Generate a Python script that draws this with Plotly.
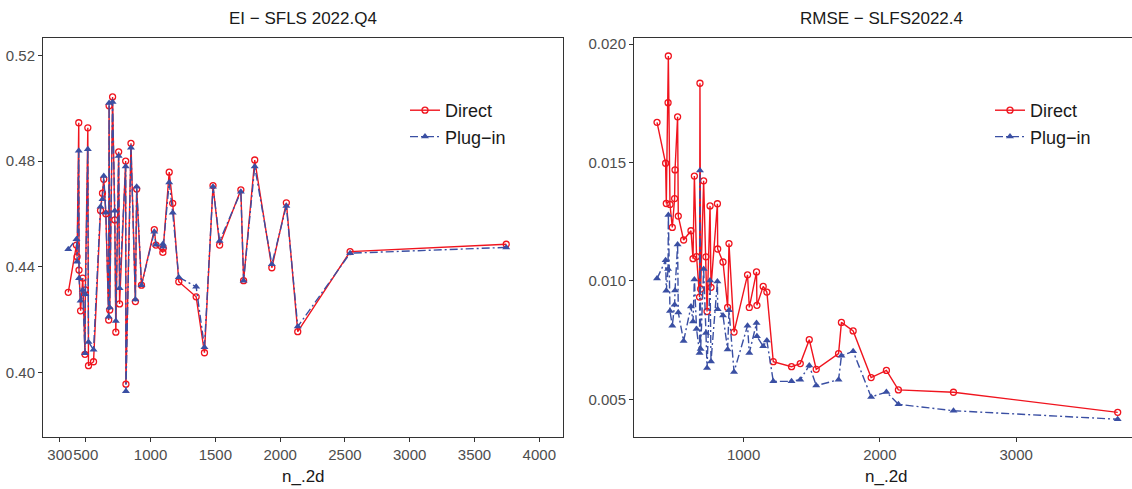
import plotly.graph_objects as go

# ---- data ----
n_2d = [365, 428, 433, 446, 448, 460, 477, 494, 497, 516, 521, 560, 614, 629, 639, 655,
        677, 680, 685, 707, 724, 732, 754, 761, 808, 810, 849, 883, 893, 930,
        1029, 1042, 1095, 1098, 1144, 1171, 1218, 1352, 1416, 1482, 1533,
        1697, 1718, 1804, 1936, 2048, 2136, 2540, 3745]

ei_direct = [0.4303, 0.4482, 0.4438, 0.4945, 0.4387, 0.4233, 0.4357, 0.4068, 0.4312, 0.4926,
             0.4025, 0.4040, 0.4613, 0.4678, 0.4731, 0.4600, 0.4198, 0.5009, 0.4236, 0.5043,
             0.4577, 0.4152, 0.4835, 0.4259, 0.4800, 0.3955, 0.4867, 0.4268, 0.4694, 0.4330,
             0.4540, 0.4482, 0.4454, 0.4470, 0.4758, 0.4640, 0.4343, 0.4286, 0.4074, 0.4707,
             0.4482, 0.4691, 0.4347, 0.4804, 0.4396, 0.4642, 0.4154, 0.4457, 0.4485]

ei_plugin = [0.4466, 0.4504, 0.4419, 0.4839, 0.4356, 0.4271, 0.4312, 0.4072, 0.4296, 0.4845,
             0.4115, 0.4085, 0.4627, 0.4655, 0.4743, 0.4604, 0.4210, 0.5020, 0.4245, 0.5024,
             0.4612, 0.4194, 0.4819, 0.4318, 0.4779, 0.3928, 0.4850, 0.4276, 0.4703, 0.4330,
             0.4532, 0.4483, 0.4486, 0.4475, 0.4719, 0.4604, 0.4360, 0.4324, 0.4095, 0.4703,
             0.4497, 0.4684, 0.4347, 0.4779, 0.4409, 0.4630, 0.4173, 0.4451, 0.4473]

rmse_direct = [0.01670, 0.01497, 0.01327, 0.01753, 0.01950, 0.01323, 0.01226, 0.01348, 0.01469,
               0.01693, 0.01274, 0.01173, 0.01212, 0.01094, 0.01443, 0.01103, 0.00932, 0.01835,
               0.00966, 0.01423, 0.01102, 0.00871, 0.01317, 0.00973, 0.01326, 0.01135, 0.01080,
               0.00888, 0.01158, 0.00784, 0.01026, 0.00888, 0.01038, 0.00897, 0.00977, 0.00953,
               0.00659, 0.00638, 0.00651, 0.00752, 0.00627, 0.00693, 0.00825, 0.00789, 0.00592,
               0.00622, 0.00540, 0.00530, 0.00445]

rmse_plugin = [0.01010, 0.01087, 0.00959, 0.01050, 0.01279, 0.00873, 0.00811, 0.00900, 0.00960,
               0.01154, 0.00867, 0.00746, 0.00892, 0.00829, 0.01006, 0.00797, 0.00696, 0.01466,
               0.00713, 0.01051, 0.00780, 0.00632, 0.01002, 0.00660, 0.00998, 0.00881, 0.00854,
               0.00710, 0.00876, 0.00616, 0.00811, 0.00696, 0.00822, 0.00766, 0.00724, 0.00748,
               0.00576, 0.00576, 0.00583, 0.00643, 0.00558, 0.00583, 0.00684, 0.00703, 0.00510,
               0.00531, 0.00479, 0.00452, 0.00416]

left_x_ticks = [300, 500, 1000, 1500, 2000, 2500, 3000, 3500, 4000]
right_x_ticks = [1000, 2000, 3000]
left_y_ticks = [0.40, 0.44, 0.48, 0.52]
right_y_ticks = [0.005, 0.010, 0.015, 0.020]

# ---- style ----
W, H = 1132, 489
RED = "#F0141E"
BLUE = "#3A4FA3"
FONT = "Liberation Sans Narrow, Arial Narrow, Liberation Sans, Arial, sans-serif"
FRAME = "#333333"
TICKC = "#4D4D4D"


def fx(p):
    return p / W


def fy(p):
    return 1 - p / H


fig = go.Figure()


def add_pair(y_d, y_p, xa, ya, leg):
    fig.add_trace(go.Scatter(
        x=n_2d, y=y_d, mode="lines+markers", name="Direct",
        xaxis=xa, yaxis=ya, legend=leg,
        line=dict(color=RED, width=1.4),
        marker=dict(symbol="circle-open", size=6, color=RED, line=dict(width=1.3, color=RED)),
    ))
    fig.add_trace(go.Scatter(
        x=n_2d, y=y_p, mode="lines+markers", name="Plug\u2212in",
        xaxis=xa, yaxis=ya, legend=leg,
        line=dict(color=BLUE, width=1.4, dash="8px,3px,2px,3px"),
        marker=dict(symbol="triangle-up", size=7, color=BLUE),
    ))


add_pair(ei_direct, ei_plugin, "x", "y", "legend")
add_pair(rmse_direct, rmse_plugin, "x2", "y2", "legend2")

axis_common = dict(
    showgrid=False, zeroline=False, ticks="outside", ticklen=4, tickwidth=1,
    tickcolor=FRAME, linecolor=FRAME, linewidth=1, showline=True, tickangle=0,
    tickfont=dict(family=FONT, size=15, color=TICKC), automargin=False,
)

legend_common = dict(
    bgcolor="rgba(0,0,0,0)", font=dict(family=FONT, size=18, color="#1A1A1A"),
    xanchor="left", yanchor="top", tracegroupgap=0, itemwidth=30,
)

fig.update_layout(
    width=W, height=H,
    margin=dict(l=0, r=0, t=0, b=0),
    paper_bgcolor="white", plot_bgcolor="white",
    font=dict(family=FONT),
    xaxis=dict(domain=[fx(43), fx(563)], range=[170, 4183], tickvals=left_x_ticks,
               ticktext=[str(v) for v in left_x_ticks], mirror=True, anchor="y", **axis_common),
    yaxis=dict(domain=[fy(437), fy(38)], range=[0.3755, 0.5266], tickvals=left_y_ticks,
               ticktext=["%.2f" % v for v in left_y_ticks], mirror=True, anchor="x", **axis_common),
    xaxis2=dict(domain=[fx(634), 1.0], range=[196, 3850], tickvals=right_x_ticks,
                ticktext=[str(v) for v in right_x_ticks], mirror=True, anchor="y2", **axis_common),
    yaxis2=dict(domain=[fy(437), fy(38)], range=[0.00341, 0.02026], tickvals=right_y_ticks,
                ticktext=["%.3f" % v for v in right_y_ticks], mirror=False, anchor="x2", **axis_common),
    legend=dict(x=fx(405), y=fy(92), **legend_common),
    legend2=dict(x=fx(990), y=fy(92), **legend_common),
    showlegend=True,
)

ann_font = dict(family=FONT, size=17, color="#1A1A1A")
for text, xp, yp in [
    ("EI \u2212 SFLS 2022.Q4", 303, 18),
    ("RMSE \u2212 SLFS2022.4", 881, 18),
    ("n_.2d", 303, 476),
    ("n_.2d", 886, 476),
]:
    fig.add_annotation(text=text, x=fx(xp), y=fy(yp), xref="paper", yref="paper",
                       xanchor="center", yanchor="middle", showarrow=False, font=ann_font)

fig.write_html("out.html")
